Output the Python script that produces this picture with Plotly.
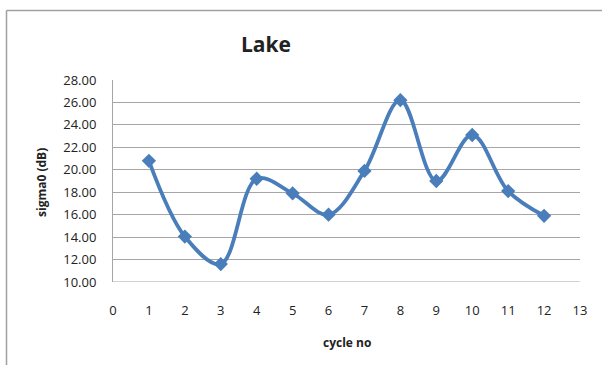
import plotly.graph_objects as go

cycle_no = [1, 2, 3, 4, 5, 6, 7, 8, 9, 10, 11, 12]
sigma0_db = [20.8, 14.05, 11.6, 19.2, 17.9, 16.0, 19.9, 26.2, 19.0, 23.1, 18.1, 15.9]

y_ticks = [10, 12, 14, 16, 18, 20, 22, 24, 26, 28]
x_ticks = list(range(0, 14))

W, H = 602, 365
L, R, T, B = 113, 22, 80, 83
PW, PH = W - L - R, H - T - B


def px_x(px):
    """Figure pixel column -> paper x (paper spans the plot area)."""
    return (px - L) / PW


def px_y(py):
    """Figure pixel row -> paper y."""
    return (H - B - py) / PH


line_color = "#4A7EBB"
font_family = "Open Sans, Liberation Sans, sans-serif"
text_color = "#222222"

fig = go.Figure()
fig.add_trace(go.Scatter(
    x=cycle_no, y=sigma0_db,
    mode="lines+markers",
    line=dict(color=line_color, width=3.8, shape="spline", smoothing=1.0),
    marker=dict(symbol="diamond", size=11, color=line_color),
    showlegend=False,
))

fig.update_layout(
    width=W, height=H,
    margin=dict(l=L, r=R, t=T, b=B),
    paper_bgcolor="white", plot_bgcolor="white",
    font=dict(family=font_family, size=13, color=text_color),
    xaxis=dict(
        range=[0, 13], tickvals=x_ticks, ticktext=[str(v) for v in x_ticks],
        showgrid=False, zeroline=False, showline=False,
        ticks="", ticklabelstandoff=19,
    ),
    yaxis=dict(
        range=[10, 28], tickvals=y_ticks, ticktext=[f"{v:.2f}" for v in y_ticks],
        showgrid=True, gridcolor="#A6A6A6", gridwidth=1,
        zeroline=False, showline=True, linecolor="#A6A6A6", linewidth=1,
        ticks="", ticklabelstandoff=13,
    ),
    annotations=[
        dict(text="<b>Lake</b>", x=px_x(266), y=px_y(44), xref="paper", yref="paper",
             xanchor="center", yanchor="middle", showarrow=False,
             font=dict(size=21, family=font_family, color=text_color)),
        dict(text="<b>cycle no</b>", x=px_x(347), y=px_y(342), xref="paper", yref="paper",
             xanchor="center", yanchor="middle", showarrow=False,
             font=dict(size=12, family=font_family, color=text_color)),
        dict(text="<b>sigma0 (dB)</b>", x=px_x(41), y=px_y(183), xref="paper", yref="paper",
             xanchor="center", yanchor="middle", showarrow=False, textangle=-90,
             font=dict(size=12, family=font_family, color=text_color)),
    ],
)

# line along the bottom of the plot area (10.00 level)
fig.add_shape(type="line", xref="paper", yref="y", x0=0, x1=1, y0=10, y1=10,
              line=dict(color="#A6A6A6", width=1))

# outer chart frame: top and left edges
fig.add_shape(type="line", xref="paper", yref="paper",
              x0=px_x(6.5), x1=px_x(610), y0=px_y(10.5), y1=px_y(10.5),
              line=dict(color="#A0A0A0", width=1.5))
fig.add_shape(type="line", xref="paper", yref="paper",
              x0=px_x(6.5), x1=px_x(6.5), y0=px_y(10.5), y1=px_y(370),
              line=dict(color="#A0A0A0", width=1.5))

fig.write_html("out.html")
